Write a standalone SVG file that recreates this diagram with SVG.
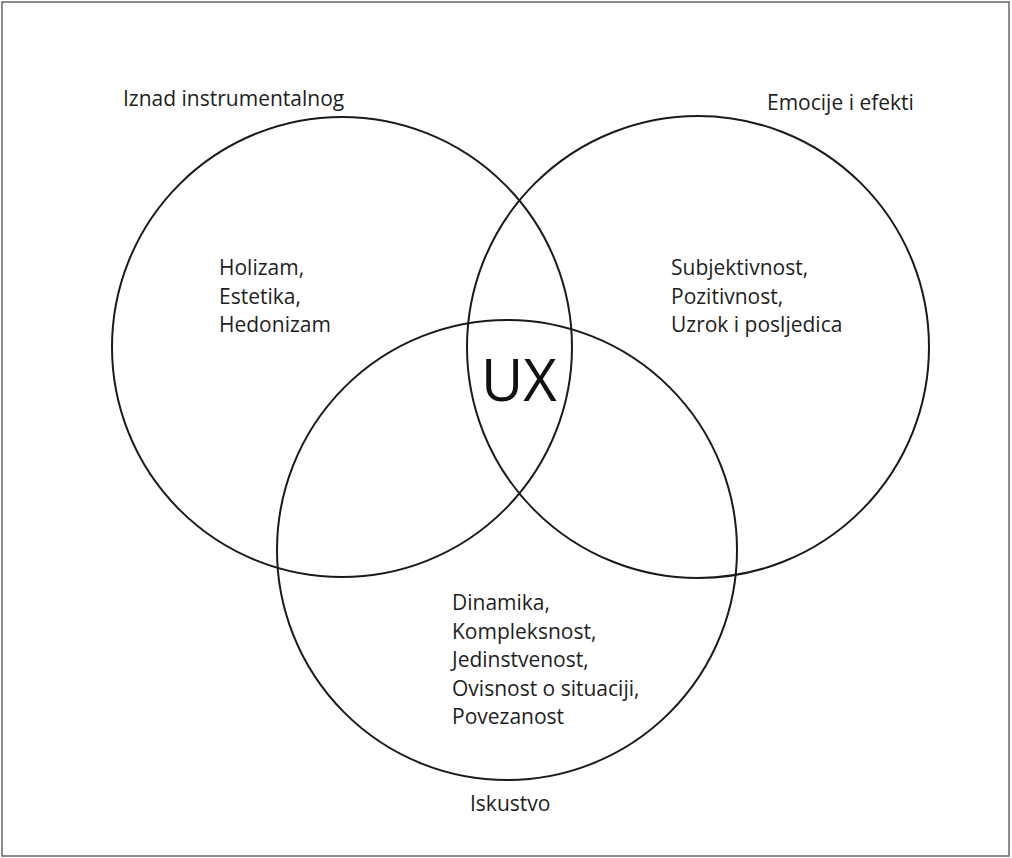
<svg xmlns="http://www.w3.org/2000/svg" width="1012" height="858" viewBox="0 0 1012 858">
<style>
.c{fill:none;stroke:#1a1a1a;stroke-width:2}
.t{font-family:"Open Sans","Noto Sans",sans-serif;font-size:21px;fill:#1e1e1e}
.ux{font-family:"Open Sans","Noto Sans",sans-serif;font-size:58px;fill:#111}
</style>
<rect x="0" y="0" width="1012" height="858" fill="#fff"/>
<rect x="2" y="2" width="1007" height="854" fill="none" stroke="#666" stroke-width="1.5"/>
<g id="connectors"></g>
<g id="circle-left">
<circle class="c" cx="342" cy="347" r="230"/>
<text class="t" x="123" y="106">Iznad instrumentalnog</text>
<text class="t" x="219" y="275">Holizam,</text>
<text class="t" x="219" y="303.5">Estetika,</text>
<text class="t" x="219" y="332">Hedonizam</text>
</g>
<g id="circle-right">
<circle class="c" cx="698" cy="347" r="231"/>
<text class="t" x="767" y="110">Emocije i efekti</text>
<text class="t" x="671" y="275">Subjektivnost,</text>
<text class="t" x="671" y="303.5">Pozitivnost,</text>
<text class="t" x="671" y="332">Uzrok i posljedica</text>
</g>
<g id="circle-bottom">
<circle class="c" cx="507" cy="550" r="230"/>
<text class="t" x="452" y="610">Dinamika,</text>
<text class="t" x="452" y="638.5">Kompleksnost,</text>
<text class="t" x="452" y="667">Jedinstvenost,</text>
<text class="t" x="452" y="695.5">Ovisnost o situaciji,</text>
<text class="t" x="452" y="724">Povezanost</text>
<text class="t" x="470" y="811">Iskustvo</text>
</g>
<g id="center-ux">
<text class="ux" x="481" y="401">UX</text>
</g>
</svg>
